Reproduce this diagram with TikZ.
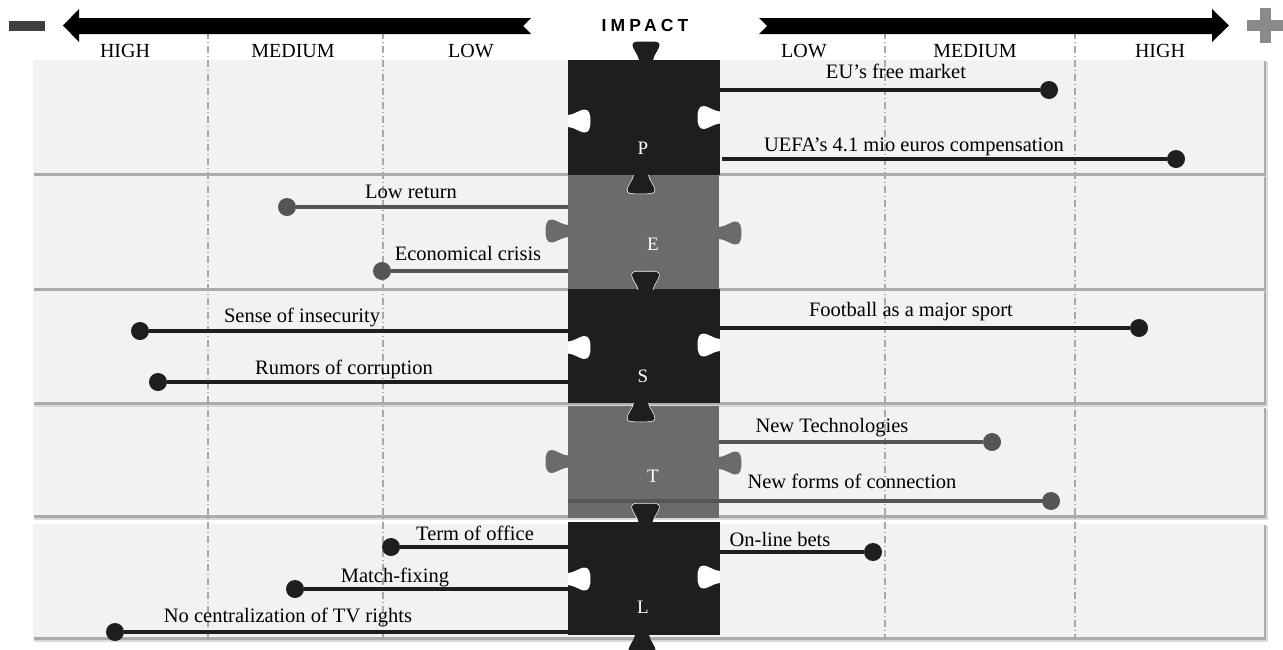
\documentclass[tikz,border=0pt]{standalone}
\usepackage{fontspec}
\setmainfont{Liberation Serif}
\newfontfamily\headfont[LetterSpace=24]{Liberation Sans}
\definecolor{darkpiece}{HTML}{1E1E1E}
\definecolor{greypiece}{HTML}{6B6B6B}
\definecolor{bandfill}{HTML}{F2F2F2}
\definecolor{shadowdark}{HTML}{ABABAB}
\definecolor{shadowlight}{HTML}{DADADA}
\definecolor{darkline}{HTML}{1E1E1E}
\definecolor{greyline}{HTML}{555555}
\definecolor{dividercol}{HTML}{A8A8A8}
\definecolor{minuscol}{HTML}{3F3F3F}
\definecolor{pluscol}{HTML}{8A8A8A}
\begin{document}
\begin{tikzpicture}[x=1pt,y=-1pt,
  block/.style={rectangle, inner sep=0pt, outer sep=0pt, draw=none, anchor=north west},
  darkblock/.style={block, fill=darkpiece},
  greyblock/.style={block, fill=greypiece},
  piecelabel/.style={text=white, font=\fontsize{19}{22}\selectfont, inner sep=0pt},
  lbl/.style={font=\fontsize{20.5}{23}\selectfont, inner sep=0pt, anchor=base, text=black},
  levelhead/.style={font=\fontsize{20}{23}\selectfont, inner sep=0pt, anchor=base},
  darkdot/.style={circle, fill=darkline, inner sep=0pt, minimum size=18pt},
  greydot/.style={circle, fill=greyline, inner sep=0pt, minimum size=18pt},
  darkconn/.style={draw=darkline, line width=3.5pt},
  greyconn/.style={draw=greyline, line width=3.5pt},
  divider/.style={draw=dividercol, line width=1.1pt, dash pattern=on 7pt off 3pt on 1pt off 3pt},
  hknob/.pic={\fill[#1] (0,-6) .. controls (8,-7) and (11,-11) .. (16,-11.5)
      .. controls (21.5,-12) and (22.5,-6) .. (22.5,0)
      .. controls (22.5,6) and (21.5,12) .. (16,11.5)
      .. controls (11,11) and (8,7) .. (0,6) -- cycle;},
  vknob/.pic={\fill[#1] (0,-7) .. controls (6,-8) and (11,-13.5) .. (15,-13.5)
      .. controls (18,-13.5) and (18.5,-10) .. (18.5,-6) -- (18.5,6)
      .. controls (18.5,10) and (18,13.5) .. (15,13.5)
      .. controls (11,13.5) and (6,8) .. (0,7) -- cycle;},
  vrim/.pic={\draw[white, line width=1.3pt] (0,-7) .. controls (6,-8) and (11,-13.5) .. (15,-13.5)
      .. controls (18,-13.5) and (18.5,-10) .. (18.5,-6) -- (18.5,6)
      .. controls (18.5,10) and (18,13.5) .. (15,13.5)
      .. controls (11,13.5) and (6,8) .. (0,7);},
]
\useasboundingbox (0,0) rectangle (1283,649);
\fill[white] (0,0) rectangle (1283,649);

% horizontal bands of the PESTL grid
\foreach \t/\b in {60/173, 176/288, 291/402, 407/515, 524/637} {
  \fill[shadowlight] (34,{\t+2}) rectangle (1268,{\b+5});
  \fill[shadowdark] (33.5,{\t+1}) rectangle (1266,{\b+2.5});
  \fill[bandfill] (33,\t) rectangle (1264,\b);
}

% impact level dividers
\foreach \x in {208,383,885,1075}
  \draw[divider] (\x,32) -- (\x,640);

% puzzle pieces
\node[darkblock, minimum width=152pt, minimum height=115pt] (P) at (568,60) {};
\node[greyblock, minimum width=151pt, minimum height=114pt] (E) at (568,175) {};
\node[darkblock, minimum width=152pt, minimum height=114pt] (S) at (568,289) {};
\node[greyblock, minimum width=151pt, minimum height=112pt] (T) at (568,406) {};
\node[darkblock, minimum width=152pt, minimum height=113pt] (L) at (568,522) {};

% knobs of the grey pieces
\pic[rotate=180] at (568,231) {hknob=greypiece};
\pic at (719,233) {hknob=greypiece};
\pic[rotate=180] at (568,461.5) {hknob=greypiece};
\pic at (719,463) {hknob=greypiece};
% sockets of the dark pieces
\foreach \y/\z in {121/117.5, 347.5/345, 579/577} {
  \pic at (568,\y) {hknob=white};
  \pic[rotate=180] at (720,\z) {hknob=white};
}
% vertical knobs of the dark pieces
\pic[rotate=90] at (646,60) {vknob=darkpiece};
\pic[rotate=-90] at (641,175) {vrim};
\pic[rotate=-90] at (641,175) {vknob=darkpiece};
\pic[rotate=90] at (645.5,290) {vrim};
\pic[rotate=90] at (645.5,290) {vknob=darkpiece};
\pic[rotate=-90] at (641,403) {vrim};
\pic[rotate=-90] at (641,403) {vknob=darkpiece};
\pic[rotate=90] at (645.5,522) {vrim};
\pic[rotate=90] at (645.5,522) {vknob=darkpiece};
\pic[rotate=-90] at (642,635) {vknob=darkpiece};

\node[piecelabel] (Pl) at (643,148) {P};
\node[piecelabel] (El) at (653,244) {E};
\node[piecelabel] (Sl) at (643,376) {S};
\node[piecelabel] (Tl) at (653,476) {T};
\node[piecelabel] (Ll) at (643,607) {L};

% factor dots
\node[darkdot] (eu) at (1049,90) {};
\node[darkdot] (uefa) at (1176,159) {};
\node[greydot] (lowret) at (287,207) {};
\node[greydot] (econ) at (382,271) {};
\node[darkdot] (sense) at (140,331) {};
\node[darkdot] (rumors) at (158,382) {};
\node[darkdot] (foot) at (1139,328) {};
\node[greydot] (newtech) at (992,442) {};
\node[greydot] (newforms) at (1051,501) {};
\node[darkdot] (term) at (391,547) {};
\node[darkdot] (match) at (295,589) {};
\node[darkdot] (nocentr) at (115,632) {};
\node[darkdot] (online) at (873,552) {};

% connectors from the pieces to the dots
\draw[darkconn] (P.east |- eu) -- (eu);
\draw[darkconn] ([xshift=2pt]P.east |- uefa) -- (uefa);
\draw[greyconn] (E.west |- lowret) -- (lowret);
\draw[greyconn] (E.west |- econ) -- (econ);
\draw[darkconn] (S.west |- sense) -- (sense);
\draw[darkconn] (S.west |- rumors) -- (rumors);
\draw[darkconn] (S.east |- foot) -- (foot);
\draw[greyconn] (T.east |- newtech) -- (newtech);
\draw[greyconn] (T.west |- newforms) -- (newforms);
\draw[darkconn] (L.west |- term) -- (term);
\draw[darkconn] (L.west |- match) -- (match);
\draw[darkconn] (L.west |- nocentr) -- (nocentr);
\draw[darkconn] (L.east |- online) -- (online);

% factor labels
\node[lbl] (t1) at (896,78) {EU’s free market};
\node[lbl] (t2) at (914,151) {UEFA’s 4.1 mio euros compensation};
\node[lbl] (t3) at (411,198) {Low return};
\node[lbl] (t4) at (468,260) {Economical crisis};
\node[lbl] (t5) at (302,322) {Sense of insecurity};
\node[lbl] (t6) at (344,374) {Rumors of corruption};
\node[lbl] (t7) at (911,316) {Football as a major sport};
\node[lbl] (t8) at (832,432) {New Technologies};
\node[lbl] (t9) at (852,488) {New forms of connection};
\node[lbl] (t10) at (475,540) {Term of office};
\node[lbl] (t11) at (395,582) {Match-fixing};
\node[lbl] (t12) at (288,622) {No centralization of TV rights};
\node[lbl] (t13) at (780,546) {On-line bets};

% impact axis
\fill[black] (63,25.5) -- (79,9) -- (79,18) -- (531,18) -- (523,26) -- (531,34)
  -- (79,34) -- (79,42) -- cycle;
\fill[black] (1229,25.5) -- (1212,9) -- (1212,18) -- (759,18) -- (767,26) -- (759,34)
  -- (1212,34) -- (1212,42) -- cycle;
\fill[minuscol] (9,21) rectangle (45,31);
\fill[pluscol] (1247,20) rectangle (1283,31);
\fill[pluscol] (1259.5,8) rectangle (1270.5,43);
\node[font=\headfont\bfseries\fontsize{17.5}{20}\selectfont, inner sep=0pt] (impact) at (645,25) {IMPACT};

\node[levelhead] (h1) at (125,57) {HIGH};
\node[levelhead] (h2) at (293,57) {MEDIUM};
\node[levelhead] (h3) at (471,57) {LOW};
\node[levelhead] (h4) at (804,57) {LOW};
\node[levelhead] (h5) at (975,57) {MEDIUM};
\node[levelhead] (h6) at (1160,57) {HIGH};
\end{tikzpicture}
\end{document}
